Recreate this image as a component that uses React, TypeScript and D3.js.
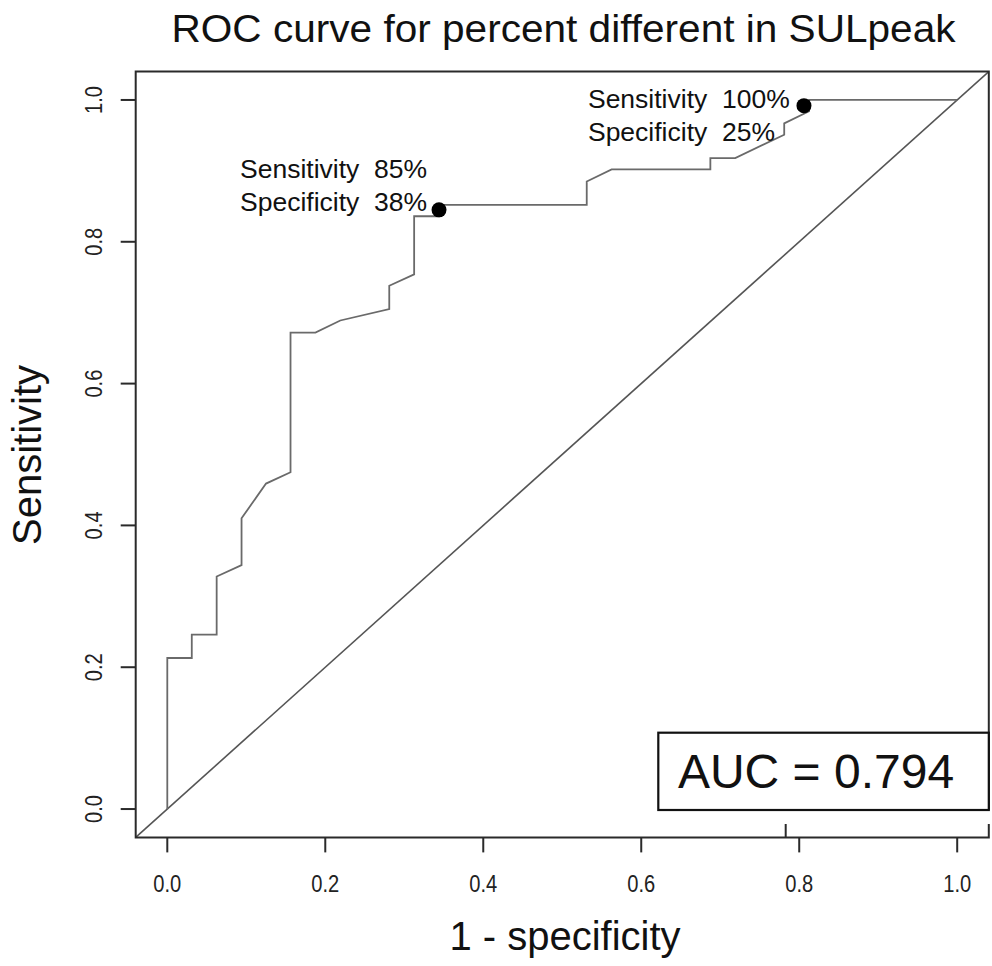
import React from "react";
import * as d3 from "d3";

// ROC curve: 1 - specificity (x) and sensitivity (y)
const fpr = [0, 0, 0.031, 0.031, 0.0625, 0.0625, 0.094, 0.094, 0.125, 0.156, 0.156, 0.1875, 0.219, 0.281, 0.281, 0.3125, 0.3125, 0.344, 0.344, 0.531, 0.531, 0.5625, 0.6875, 0.6875, 0.719, 0.781, 0.781, 0.8125, 0.8125, 1.0];
const tpr = [0, 0.213, 0.213, 0.246, 0.246, 0.328, 0.344, 0.41, 0.459, 0.475, 0.672, 0.672, 0.689, 0.705, 0.738, 0.754, 0.836, 0.836, 0.852, 0.852, 0.885, 0.902, 0.902, 0.918, 0.918, 0.951, 0.967, 0.984, 1.0, 1.0];

const xTicks = [0, 0.2, 0.4, 0.6, 0.8, 1.0];
const yTicks = [0, 0.2, 0.4, 0.6, 0.8, 1.0];

const markerX = [0.344, 0.806];
const markerY = [0.845, 0.992];
const markerLines = [
  ["Sensitivity  85%", "Specificity  38%"],
  ["Sensitivity  100%", "Specificity  25%"],
];
// layout of annotation text relative to marker (px)
const markerTextLeft = [199, 216];
const markerLineOffsets = [
  [-32, 1],
  [2, 35],
];

const titleText = "ROC curve for percent different in SULpeak";
const xLabel = "1 - specificity";
const yLabel = "Sensitivity";
const aucText = "AUC = 0.794";

export default function App() {
  const W = 992;
  const H = 966;
  const left = 135.7, right = 988.8, top = 71.6, bottom = 837.4;
  const x = d3.scaleLinear().domain([-0.04, 1.04]).range([left, right]);
  const y = d3.scaleLinear().domain([-0.04, 1.04]).range([bottom, top]);

  const pts = fpr.map((f, i) => [f, tpr[i]] as [number, number]);
  const line = d3.line<[number, number]>().x((d) => x(d[0])).y((d) => y(d[1]));
  const font = "'Liberation Sans', Arial, sans-serif";

  return (
    <svg width={W} height={H} style={{ position: "absolute", left: 0, top: 0, background: "#fff" }} fontFamily={font}>
      <rect x={0} y={0} width={W} height={H} fill="#fff" />
      <defs>
        <clipPath id="plotclip">
          <rect x={left} y={top} width={right - left} height={bottom - top} />
        </clipPath>
      </defs>
      {/* title */}
      <text x={563.5} y={42} fontSize={38} textAnchor="middle" fill="#111" textLength={784} lengthAdjust="spacingAndGlyphs">
        {titleText}
      </text>
      {/* diagonal reference line */}
      <line x1={x(-0.04)} y1={y(-0.04)} x2={x(1.04)} y2={y(1.04)} stroke="#555" strokeWidth={1.6} clipPath="url(#plotclip)" />
      {/* ROC curve */}
      <path d={line(pts) || ""} fill="none" stroke="#6a6a6a" strokeWidth={1.8} />
      {/* frame */}
      <path
        d={`M${left},${824} L${left},${top} L${right},${top} L${right},${810} M${right},${824} L${right},${bottom} L${left},${bottom} L${left},${824}`}
        fill="none"
        stroke="#2a2a2a"
        strokeWidth={2}
      />
      {/* stray tick */}
      <line x1={785.7} x2={785.7} y1={824} y2={bottom} stroke="#2a2a2a" strokeWidth={2} />
      {/* x axis ticks */}
      {xTicks.map((t) => (
        <g key={"xt" + t}>
          <line x1={x(t)} x2={x(t)} y1={bottom} y2={bottom + 15} stroke="#2a2a2a" strokeWidth={2} />
          <text x={x(t)} y={892} fontSize={23} textAnchor="middle" fill="#222" textLength={28} lengthAdjust="spacingAndGlyphs">
            {t.toFixed(1)}
          </text>
        </g>
      ))}
      {/* y axis ticks */}
      {yTicks.map((t) => (
        <g key={"yt" + t}>
          <line x1={left} x2={left - 15} y1={y(t)} y2={y(t)} stroke="#2a2a2a" strokeWidth={2} />
          <text transform={`translate(102,${y(t)}) rotate(-90)`} fontSize={23} textAnchor="middle" fill="#222" textLength={28} lengthAdjust="spacingAndGlyphs">
            {t.toFixed(1)}
          </text>
        </g>
      ))}
      {/* axis labels */}
      <text x={565} y={950} fontSize={40} textAnchor="middle" fill="#111">
        {xLabel}
      </text>
      <text transform={`translate(41,455) rotate(-90)`} fontSize={40} textAnchor="middle" fill="#111">
        {yLabel}
      </text>
      {/* markers and annotations */}
      {markerX.map((mx, i) => (
        <g key={"m" + i}>
          <circle cx={x(mx)} cy={y(markerY[i])} r={7.5} fill="#000" />
          {markerLines[i].map((s, j) => (
            <text
              key={j}
              x={x(mx) - markerTextLeft[i]}
              y={y(markerY[i]) + markerLineOffsets[i][j]}
              fontSize={26.5}
              textAnchor="start"
              fill="#111"
              style={{ whiteSpace: "pre" }}
            >
              {s}
            </text>
          ))}
        </g>
      ))}
      {/* AUC box */}
      <rect x={658.3} y={732.7} width={right - 658.3} height={810 - 732.7} fill="#fff" stroke="#111" strokeWidth={2.2} />
      <text x={816} y={788} fontSize={48} textAnchor="middle" fill="#111">
        {aucText}
      </text>
    </svg>
  );
}
